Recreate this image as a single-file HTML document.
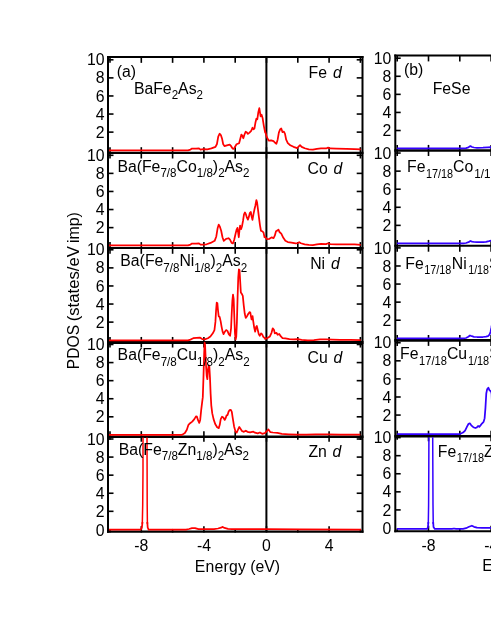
<!DOCTYPE html>
<html><head><meta charset="utf-8"><title>PDOS</title>
<style>html,body{margin:0;padding:0;background:#fff;}body{width:491px;height:635px;overflow:hidden;position:relative;font-family:"Liberation Sans",sans-serif;}</style>
</head><body>
<svg width="491" height="635" viewBox="0 0 491 635" style="position:absolute;left:0;top:0;display:block;will-change:transform">
<rect x="0" y="0" width="491" height="635" fill="#ffffff"/>
<g stroke="#000000" fill="none" stroke-linecap="butt">
<line x1="108.0" y1="56.05" x2="108.0" y2="532.65" stroke-width="2.0"/>
<line x1="362.5" y1="56.05" x2="362.5" y2="532.65" stroke-width="2.0"/>
<line x1="107.0" y1="57.05" x2="363.5" y2="57.05" stroke-width="2.0"/>
<line x1="107.0" y1="152.9" x2="363.5" y2="152.9" stroke-width="2.1"/>
<line x1="107.0" y1="248.0" x2="363.5" y2="248.0" stroke-width="2.2"/>
<line x1="107.0" y1="342.55" x2="363.5" y2="342.55" stroke-width="2.9"/>
<line x1="107.0" y1="436.75" x2="363.5" y2="436.75" stroke-width="2.5"/>
<line x1="107.0" y1="531.65" x2="363.5" y2="531.65" stroke-width="2.2"/>
<line x1="266.40" y1="57.05" x2="266.40" y2="531.65" stroke-width="2.0"/>
<line x1="395.3" y1="54.6" x2="395.3" y2="532.2" stroke-width="2.0"/>
<line x1="394.3" y1="55.6" x2="495" y2="55.6" stroke-width="2.0"/>
<line x1="394.3" y1="150.5" x2="495" y2="150.5" stroke-width="2.6"/>
<line x1="394.3" y1="245.8" x2="495" y2="245.8" stroke-width="2.1"/>
<line x1="394.3" y1="340.4" x2="495" y2="340.4" stroke-width="2.8"/>
<line x1="394.3" y1="436.3" x2="495" y2="436.3" stroke-width="2.5"/>
<line x1="394.3" y1="531.2" x2="495" y2="531.2" stroke-width="2.1"/>
</g>
<g stroke="#000000" stroke-width="1.6" fill="none">
<line x1="108.0" y1="59.80" x2="113.5" y2="59.80"/>
<line x1="362.5" y1="59.80" x2="356.7" y2="59.80"/>
<line x1="395.3" y1="58.20" x2="400.7" y2="58.20"/>
<line x1="108.0" y1="77.88" x2="113.5" y2="77.88"/>
<line x1="362.5" y1="77.88" x2="356.7" y2="77.88"/>
<line x1="395.3" y1="76.28" x2="400.7" y2="76.28"/>
<line x1="108.0" y1="95.96" x2="113.5" y2="95.96"/>
<line x1="362.5" y1="95.96" x2="356.7" y2="95.96"/>
<line x1="395.3" y1="94.36" x2="400.7" y2="94.36"/>
<line x1="108.0" y1="114.04" x2="113.5" y2="114.04"/>
<line x1="362.5" y1="114.04" x2="356.7" y2="114.04"/>
<line x1="395.3" y1="112.44" x2="400.7" y2="112.44"/>
<line x1="108.0" y1="132.12" x2="113.5" y2="132.12"/>
<line x1="362.5" y1="132.12" x2="356.7" y2="132.12"/>
<line x1="395.3" y1="130.52" x2="400.7" y2="130.52"/>
<line x1="108.0" y1="155.30" x2="113.5" y2="155.30"/>
<line x1="362.5" y1="155.30" x2="356.7" y2="155.30"/>
<line x1="395.3" y1="153.05" x2="400.7" y2="153.05"/>
<line x1="108.0" y1="173.38" x2="113.5" y2="173.38"/>
<line x1="362.5" y1="173.38" x2="356.7" y2="173.38"/>
<line x1="395.3" y1="171.13" x2="400.7" y2="171.13"/>
<line x1="108.0" y1="191.46" x2="113.5" y2="191.46"/>
<line x1="362.5" y1="191.46" x2="356.7" y2="191.46"/>
<line x1="395.3" y1="189.21" x2="400.7" y2="189.21"/>
<line x1="108.0" y1="209.54" x2="113.5" y2="209.54"/>
<line x1="362.5" y1="209.54" x2="356.7" y2="209.54"/>
<line x1="395.3" y1="207.29" x2="400.7" y2="207.29"/>
<line x1="108.0" y1="227.62" x2="113.5" y2="227.62"/>
<line x1="362.5" y1="227.62" x2="356.7" y2="227.62"/>
<line x1="395.3" y1="225.37" x2="400.7" y2="225.37"/>
<line x1="108.0" y1="249.80" x2="113.5" y2="249.80"/>
<line x1="362.5" y1="249.80" x2="356.7" y2="249.80"/>
<line x1="395.3" y1="247.90" x2="400.7" y2="247.90"/>
<line x1="108.0" y1="267.88" x2="113.5" y2="267.88"/>
<line x1="362.5" y1="267.88" x2="356.7" y2="267.88"/>
<line x1="395.3" y1="265.98" x2="400.7" y2="265.98"/>
<line x1="108.0" y1="285.96" x2="113.5" y2="285.96"/>
<line x1="362.5" y1="285.96" x2="356.7" y2="285.96"/>
<line x1="395.3" y1="284.06" x2="400.7" y2="284.06"/>
<line x1="108.0" y1="304.04" x2="113.5" y2="304.04"/>
<line x1="362.5" y1="304.04" x2="356.7" y2="304.04"/>
<line x1="395.3" y1="302.14" x2="400.7" y2="302.14"/>
<line x1="108.0" y1="322.12" x2="113.5" y2="322.12"/>
<line x1="362.5" y1="322.12" x2="356.7" y2="322.12"/>
<line x1="395.3" y1="320.22" x2="400.7" y2="320.22"/>
<line x1="108.0" y1="344.50" x2="113.5" y2="344.50"/>
<line x1="362.5" y1="344.50" x2="356.7" y2="344.50"/>
<line x1="395.3" y1="342.75" x2="400.7" y2="342.75"/>
<line x1="108.0" y1="362.58" x2="113.5" y2="362.58"/>
<line x1="362.5" y1="362.58" x2="356.7" y2="362.58"/>
<line x1="395.3" y1="360.83" x2="400.7" y2="360.83"/>
<line x1="108.0" y1="380.66" x2="113.5" y2="380.66"/>
<line x1="362.5" y1="380.66" x2="356.7" y2="380.66"/>
<line x1="395.3" y1="378.91" x2="400.7" y2="378.91"/>
<line x1="108.0" y1="398.74" x2="113.5" y2="398.74"/>
<line x1="362.5" y1="398.74" x2="356.7" y2="398.74"/>
<line x1="395.3" y1="396.99" x2="400.7" y2="396.99"/>
<line x1="108.0" y1="416.82" x2="113.5" y2="416.82"/>
<line x1="362.5" y1="416.82" x2="356.7" y2="416.82"/>
<line x1="395.3" y1="415.07" x2="400.7" y2="415.07"/>
<line x1="108.0" y1="439.00" x2="113.5" y2="439.00"/>
<line x1="362.5" y1="439.00" x2="356.7" y2="439.00"/>
<line x1="395.3" y1="437.60" x2="400.7" y2="437.60"/>
<line x1="108.0" y1="457.08" x2="113.5" y2="457.08"/>
<line x1="362.5" y1="457.08" x2="356.7" y2="457.08"/>
<line x1="395.3" y1="455.68" x2="400.7" y2="455.68"/>
<line x1="108.0" y1="475.16" x2="113.5" y2="475.16"/>
<line x1="362.5" y1="475.16" x2="356.7" y2="475.16"/>
<line x1="395.3" y1="473.76" x2="400.7" y2="473.76"/>
<line x1="108.0" y1="493.24" x2="113.5" y2="493.24"/>
<line x1="362.5" y1="493.24" x2="356.7" y2="493.24"/>
<line x1="395.3" y1="491.84" x2="400.7" y2="491.84"/>
<line x1="108.0" y1="511.32" x2="113.5" y2="511.32"/>
<line x1="362.5" y1="511.32" x2="356.7" y2="511.32"/>
<line x1="395.3" y1="509.92" x2="400.7" y2="509.92"/>
<line x1="110.00" y1="57.05" x2="110.00" y2="62.85"/>
<line x1="110.00" y1="147.20" x2="110.00" y2="158.50"/>
<line x1="110.00" y1="242.10" x2="110.00" y2="253.80"/>
<line x1="110.00" y1="336.95" x2="110.00" y2="347.55"/>
<line x1="110.00" y1="431.15" x2="110.00" y2="439.85"/>
<line x1="110.00" y1="528.95" x2="110.00" y2="532.55"/>
<line x1="141.30" y1="57.05" x2="141.30" y2="62.85"/>
<line x1="141.30" y1="147.20" x2="141.30" y2="158.50"/>
<line x1="141.30" y1="242.10" x2="141.30" y2="253.80"/>
<line x1="141.30" y1="336.95" x2="141.30" y2="347.55"/>
<line x1="141.30" y1="431.15" x2="141.30" y2="441.75"/>
<line x1="141.30" y1="526.15" x2="141.30" y2="532.55"/>
<line x1="172.60" y1="57.05" x2="172.60" y2="62.85"/>
<line x1="172.60" y1="147.20" x2="172.60" y2="158.50"/>
<line x1="172.60" y1="242.10" x2="172.60" y2="253.80"/>
<line x1="172.60" y1="336.95" x2="172.60" y2="347.55"/>
<line x1="172.60" y1="431.15" x2="172.60" y2="439.85"/>
<line x1="172.60" y1="528.95" x2="172.60" y2="532.55"/>
<line x1="203.90" y1="57.05" x2="203.90" y2="62.85"/>
<line x1="203.90" y1="147.20" x2="203.90" y2="158.50"/>
<line x1="203.90" y1="242.10" x2="203.90" y2="253.80"/>
<line x1="203.90" y1="336.95" x2="203.90" y2="347.55"/>
<line x1="203.90" y1="431.15" x2="203.90" y2="441.75"/>
<line x1="203.90" y1="526.15" x2="203.90" y2="532.55"/>
<line x1="235.20" y1="57.05" x2="235.20" y2="62.85"/>
<line x1="235.20" y1="147.20" x2="235.20" y2="158.50"/>
<line x1="235.20" y1="242.10" x2="235.20" y2="253.80"/>
<line x1="235.20" y1="336.95" x2="235.20" y2="347.55"/>
<line x1="235.20" y1="431.15" x2="235.20" y2="439.85"/>
<line x1="235.20" y1="528.95" x2="235.20" y2="532.55"/>
<line x1="266.50" y1="57.05" x2="266.50" y2="62.85"/>
<line x1="266.50" y1="147.20" x2="266.50" y2="158.50"/>
<line x1="266.50" y1="242.10" x2="266.50" y2="253.80"/>
<line x1="266.50" y1="336.95" x2="266.50" y2="347.55"/>
<line x1="266.50" y1="431.15" x2="266.50" y2="441.75"/>
<line x1="266.50" y1="526.15" x2="266.50" y2="532.55"/>
<line x1="297.80" y1="57.05" x2="297.80" y2="62.85"/>
<line x1="297.80" y1="147.20" x2="297.80" y2="158.50"/>
<line x1="297.80" y1="242.10" x2="297.80" y2="253.80"/>
<line x1="297.80" y1="336.95" x2="297.80" y2="347.55"/>
<line x1="297.80" y1="431.15" x2="297.80" y2="439.85"/>
<line x1="297.80" y1="528.95" x2="297.80" y2="532.55"/>
<line x1="329.10" y1="57.05" x2="329.10" y2="62.85"/>
<line x1="329.10" y1="147.20" x2="329.10" y2="158.50"/>
<line x1="329.10" y1="242.10" x2="329.10" y2="253.80"/>
<line x1="329.10" y1="336.95" x2="329.10" y2="347.55"/>
<line x1="329.10" y1="431.15" x2="329.10" y2="441.75"/>
<line x1="329.10" y1="526.15" x2="329.10" y2="532.55"/>
<line x1="360.40" y1="57.05" x2="360.40" y2="62.85"/>
<line x1="360.40" y1="147.20" x2="360.40" y2="158.50"/>
<line x1="360.40" y1="242.10" x2="360.40" y2="253.80"/>
<line x1="360.40" y1="336.95" x2="360.40" y2="347.55"/>
<line x1="360.40" y1="431.15" x2="360.40" y2="439.85"/>
<line x1="360.40" y1="528.95" x2="360.40" y2="532.55"/>
<line x1="397.20" y1="55.60" x2="397.20" y2="61.40"/>
<line x1="397.20" y1="144.90" x2="397.20" y2="156.00"/>
<line x1="397.20" y1="239.90" x2="397.20" y2="251.70"/>
<line x1="397.20" y1="335.00" x2="397.20" y2="345.90"/>
<line x1="397.20" y1="430.70" x2="397.20" y2="439.70"/>
<line x1="397.20" y1="528.50" x2="397.20" y2="532.10"/>
<line x1="428.50" y1="55.60" x2="428.50" y2="61.40"/>
<line x1="428.50" y1="144.90" x2="428.50" y2="156.00"/>
<line x1="428.50" y1="239.90" x2="428.50" y2="251.70"/>
<line x1="428.50" y1="335.00" x2="428.50" y2="345.90"/>
<line x1="428.50" y1="430.70" x2="428.50" y2="441.30"/>
<line x1="428.50" y1="525.70" x2="428.50" y2="532.10"/>
<line x1="459.80" y1="55.60" x2="459.80" y2="61.40"/>
<line x1="459.80" y1="144.90" x2="459.80" y2="156.00"/>
<line x1="459.80" y1="239.90" x2="459.80" y2="251.70"/>
<line x1="459.80" y1="335.00" x2="459.80" y2="345.90"/>
<line x1="459.80" y1="430.70" x2="459.80" y2="439.70"/>
<line x1="459.80" y1="528.50" x2="459.80" y2="532.10"/>
<line x1="491.10" y1="55.60" x2="491.10" y2="61.40"/>
<line x1="491.10" y1="144.90" x2="491.10" y2="156.00"/>
<line x1="491.10" y1="239.90" x2="491.10" y2="251.70"/>
<line x1="491.10" y1="335.00" x2="491.10" y2="345.90"/>
<line x1="491.10" y1="430.70" x2="491.10" y2="441.30"/>
<line x1="491.10" y1="525.70" x2="491.10" y2="532.10"/>
</g>
<path d="M109.00,150.30 L188.00,150.30 L190.50,149.60 L192.00,148.60 L196.00,148.60 L199.00,148.40 L200.50,149.60 L203.26,149.21 L207.33,149.37 L211.41,148.39 L215.48,146.92 L216.95,143.99 L218.25,136.66 L219.55,133.73 L220.86,135.03 L222.16,139.10 L223.14,143.99 L224.44,146.11 L226.88,145.30 L229.65,144.64 L230.96,145.95 L232.59,148.55 L233.89,148.88 L235.19,146.44 L236.50,144.32 L239.10,143.18 L240.41,138.29 L241.38,134.54 L242.36,135.85 L243.34,138.29 L244.32,135.03 L245.62,131.77 L246.92,132.59 L247.90,133.89 L249.53,132.59 L251.16,130.96 L252.46,127.70 L253.44,129.33 L254.42,128.51 L255.40,122.81 L256.37,118.74 L257.35,119.23 L258.33,112.22 L259.31,108.15 L259.96,112.22 L260.61,116.29 L261.59,114.66 L262.57,117.92 L263.87,126.07 L265.17,132.59 L265.00,130.55 L266.63,136.66 L268.67,140.73 L271.11,140.33 L273.55,141.14 L275.18,142.77 L276.41,143.79 L277.63,139.71 L278.85,132.59 L280.07,129.53 L281.29,128.51 L282.52,132.18 L283.74,131.57 L284.96,133.60 L286.18,139.71 L287.81,143.18 L290.25,145.21 L293.51,146.84 L297.18,148.07 L298.81,146.44 L300.03,145.21 L301.66,146.84 L304.71,148.27 L308.79,149.29 L312.86,149.69 L316.93,148.88 L321.01,148.27 L326.10,148.47 L328.14,147.66 L330.17,148.47 L336.28,148.68 L346.47,148.88 L354.61,149.08 L360.72,149.29" fill="none" stroke="#ff0000" stroke-width="1.75" stroke-linejoin="round" stroke-linecap="butt"/>
<path d="M109.00,245.30 L188.00,245.30 L190.50,244.60 L192.00,243.60 L196.00,243.60 L199.00,243.40 L200.50,244.60 L203.26,244.58 L206.52,244.26 L210.59,242.95 L214.66,240.84 L216.29,236.44 L217.60,228.29 L218.74,224.54 L219.88,226.66 L221.18,230.73 L222.48,237.25 L223.79,240.84 L226.07,238.88 L228.51,238.23 L229.98,239.69 L231.61,242.95 L232.91,243.44 L234.22,239.69 L235.52,233.99 L236.50,229.92 L237.47,227.80 L238.13,232.36 L238.78,237.25 L239.43,230.73 L240.08,225.52 L241.06,229.10 L242.04,226.17 L243.01,220.96 L243.99,214.44 L244.97,212.48 L245.95,214.44 L246.92,217.70 L247.90,219.65 L248.88,216.88 L249.86,212.81 L250.84,212.00 L251.49,216.07 L252.46,219.82 L253.44,214.44 L254.42,209.55 L255.40,205.48 L256.37,200.10 L257.03,202.22 L258.00,209.55 L258.98,217.70 L259.96,225.03 L260.94,230.73 L262.57,231.55 L263.54,232.69 L264.52,237.25 L265.00,236.75 L267.04,239.20 L269.48,238.79 L271.52,237.36 L273.55,238.18 L274.78,235.73 L276.00,231.25 L277.22,230.64 L278.44,229.62 L279.66,232.27 L281.29,233.70 L283.33,237.77 L285.37,240.82 L287.81,242.05 L291.48,242.66 L295.55,243.47 L297.59,243.07 L299.22,242.25 L300.85,243.27 L304.71,244.29 L308.79,244.90 L312.86,245.10 L316.93,244.49 L321.01,243.88 L326.10,244.08 L328.14,243.27 L330.17,244.08 L336.28,244.29 L346.47,244.49 L354.61,244.49 L360.72,244.90" fill="none" stroke="#ff0000" stroke-width="1.75" stroke-linejoin="round" stroke-linecap="butt"/>
<path d="M109.00,340.30 L188.00,340.30 L190.50,339.60 L191.63,339.02 L193.26,338.21 L196.52,337.88 L199.78,337.56 L202.22,339.02 L204.66,339.35 L207.92,338.21 L210.37,336.58 L212.81,333.32 L214.44,330.06 L215.42,321.91 L216.07,310.51 L216.72,302.69 L217.37,303.18 L218.02,310.51 L218.68,316.21 L219.65,317.03 L220.63,321.10 L221.61,326.80 L222.59,331.69 L223.56,334.13 L224.87,331.69 L226.17,330.06 L227.47,330.88 L228.78,334.13 L230.08,335.76 L231.06,328.43 L231.71,313.77 L232.36,300.73 L233.01,294.54 L233.67,299.10 L234.32,317.03 L234.97,333.32 L235.62,339.51 L236.27,336.58 L236.92,321.91 L237.58,297.47 L238.23,277.92 L238.88,269.45 L239.53,270.10 L240.18,281.18 L240.84,292.59 L241.81,293.89 L242.79,295.85 L243.77,305.62 L244.75,313.77 L245.72,317.84 L247.03,316.21 L248.33,313.77 L249.63,312.14 L250.29,312.46 L250.94,316.21 L251.59,319.47 L252.57,316.21 L253.22,321.10 L254.20,327.62 L255.17,331.69 L256.15,326.80 L256.80,325.99 L257.78,330.06 L258.76,334.13 L259.74,335.76 L261.04,333.32 L262.02,334.13 L263.32,336.90 L264.95,338.21 L265.00,338.88 L267.44,338.07 L269.89,336.44 L271.52,332.77 L272.74,328.29 L273.96,329.71 L274.78,333.38 L276.41,332.77 L277.63,334.81 L279.26,333.99 L280.89,336.44 L282.52,338.07 L285.37,338.47 L289.44,339.08 L293.51,339.49 L297.59,339.08 L301.66,339.90 L307.77,340.31 L313.88,340.10 L319.99,339.49 L326.10,339.49 L332.21,339.69 L340.36,339.90 L350.54,339.90 L360.72,340.10" fill="none" stroke="#ff0000" stroke-width="1.75" stroke-linejoin="round" stroke-linecap="butt"/>
<path d="M109.00,434.90 L181.40,434.90 L182.44,434.61 L184.89,432.98 L186.84,429.73 L188.47,424.84 L190.10,423.21 L192.22,421.58 L194.34,419.13 L195.97,416.36 L196.95,416.69 L197.92,419.95 L199.23,422.88 L200.20,419.95 L201.18,410.17 L202.16,402.03 L202.81,397.14 L203.46,377.59 L204.11,354.78 L204.60,342.56 L205.09,345.00 L205.42,353.15 L206.07,366.18 L206.72,375.96 L207.37,379.22 L208.02,369.44 L208.68,365.37 L209.33,366.18 L209.98,377.59 L210.63,393.88 L211.28,405.29 L212.26,413.43 L213.56,419.13 L215.19,424.02 L217.15,427.28 L218.78,428.10 L219.76,424.84 L220.73,419.13 L222.04,416.69 L223.34,417.51 L224.64,419.95 L225.62,418.32 L226.60,415.39 L227.58,415.06 L228.55,411.80 L229.53,410.17 L230.84,409.85 L231.81,411.80 L232.79,418.32 L234.09,426.47 L235.40,431.35 L236.70,432.66 L238.00,429.73 L239.31,426.96 L240.61,428.91 L241.91,431.03 L243.87,431.84 L245.82,430.70 L247.45,431.84 L250.06,432.33 L253.32,431.68 L255.00,432.72 L257.69,433.39 L259.93,432.50 L262.17,433.84 L264.86,433.17 L267.10,430.93 L268.44,429.36 L270.23,432.05 L272.92,432.50 L277.40,432.94 L281.88,433.84 L288.61,434.29 L297.57,434.74 L306.53,434.74 L315.49,434.29 L326.69,434.29 L340.13,434.51 L353.58,434.74 L360.30,434.74" fill="none" stroke="#ff0000" stroke-width="1.75" stroke-linejoin="round" stroke-linecap="butt"/>
<path d="M109.00,529.70 L140.80,529.70 L141.90,527.50 L142.50,522.00 M147.30,522.00 L147.70,527.50 L148.60,529.60 L186.00,529.60 L189.00,529.00 L192.00,528.10 L195.00,528.10 L198.50,529.20 L214.00,529.20 L218.00,528.50 L221.00,527.70 L222.70,526.90 L224.50,527.90 L228.00,528.90 L232.00,529.20 L266.00,529.10 L300.00,529.30 L361.00,529.60" fill="none" stroke="#ff0000" stroke-width="1.75" stroke-linejoin="round" stroke-linecap="butt"/>
<path d="M397.00,148.40 L463.50,148.40 L466.00,148.10 L468.50,147.30 L470.40,146.10 L472.00,147.00 L474.00,147.50 L477.00,147.80 L483.00,147.70 L488.00,147.40 L492.00,147.20" fill="none" stroke="#3300ff" stroke-width="1.75" stroke-linejoin="round" stroke-linecap="butt"/>
<path d="M397.00,243.30 L463.50,243.30 L466.00,243.00 L468.50,242.20 L470.40,241.00 L472.00,241.60 L474.00,242.00 L477.00,242.20 L483.00,242.20 L486.00,241.90 L489.00,241.20 L492.00,240.30" fill="none" stroke="#3300ff" stroke-width="1.75" stroke-linejoin="round" stroke-linecap="butt"/>
<path d="M397.00,338.40 L463.20,338.40 L466.00,338.00 L468.30,336.80 L470.00,335.50 L471.80,336.20 L474.00,336.80 L477.00,337.00 L483.00,337.00 L486.00,336.60 L488.00,336.10 L489.50,334.60 L490.50,332.00 L491.30,328.00 L492.00,324.00" fill="none" stroke="#3300ff" stroke-width="1.75" stroke-linejoin="round" stroke-linecap="butt"/>
<path d="M397.20,434.01 L459.94,434.01 L463.03,432.57 L465.09,430.52 L467.14,426.40 L468.58,423.73 L469.82,423.32 L471.26,425.37 L473.32,427.22 L475.37,428.05 L476.81,427.43 L478.05,425.99 L479.28,426.81 L480.52,425.37 L482.16,423.32 L483.60,421.88 L484.63,418.17 L485.45,407.89 L486.28,393.49 L487.10,389.37 L488.33,387.73 L489.57,390.40 L491.01,391.43 L491.63,393.90 L491.93,401.72" fill="none" stroke="#3300ff" stroke-width="1.75" stroke-linejoin="round" stroke-linecap="butt"/>
<path d="M397.00,528.95 L427.00,528.95 L427.90,527.50 L428.40,522.00 M433.20,522.00 L433.50,527.00 L434.80,528.90 L452.00,528.90 L454.00,528.50 L456.00,528.90 L463.00,528.80 L466.00,528.20 L469.00,526.80 L471.90,525.70 L474.00,526.80 L477.00,527.70 L482.00,527.90 L492.00,528.00" fill="none" stroke="#3300ff" stroke-width="1.75" stroke-linejoin="round" stroke-linecap="butt"/>
<path d="M142.30,524.00 L142.70,505.00 L143.00,470.00 L143.00,437.40 M147.00,437.40 L147.10,470.00 L147.20,505.00 L147.40,524.00" fill="none" stroke="#ff0000" stroke-width="1.5" stroke-linejoin="round" stroke-linecap="butt"/>
<path d="M428.30,524.00 L428.60,505.00 L428.80,470.00 L428.90,437.20 M432.70,437.20 L432.85,470.00 L433.00,505.00 L433.25,524.00" fill="none" stroke="#3300ff" stroke-width="1.5" stroke-linejoin="round" stroke-linecap="butt"/>
<g font-family="'Liberation Sans', sans-serif" font-size="15.8" fill="#000">
<text x="104.6" y="65.40" text-anchor="end">10</text>
<text x="391.4" y="63.80" text-anchor="end">10</text>
<text x="104.6" y="83.48" text-anchor="end">8</text>
<text x="391.4" y="81.88" text-anchor="end">8</text>
<text x="104.6" y="101.56" text-anchor="end">6</text>
<text x="391.4" y="99.96" text-anchor="end">6</text>
<text x="104.6" y="119.64" text-anchor="end">4</text>
<text x="391.4" y="118.04" text-anchor="end">4</text>
<text x="104.6" y="137.72" text-anchor="end">2</text>
<text x="391.4" y="136.12" text-anchor="end">2</text>
<text x="104.6" y="160.90" text-anchor="end">10</text>
<text x="391.4" y="158.65" text-anchor="end">10</text>
<text x="104.6" y="178.98" text-anchor="end">8</text>
<text x="391.4" y="176.73" text-anchor="end">8</text>
<text x="104.6" y="197.06" text-anchor="end">6</text>
<text x="391.4" y="194.81" text-anchor="end">6</text>
<text x="104.6" y="215.14" text-anchor="end">4</text>
<text x="391.4" y="212.89" text-anchor="end">4</text>
<text x="104.6" y="233.22" text-anchor="end">2</text>
<text x="391.4" y="230.97" text-anchor="end">2</text>
<text x="104.6" y="255.40" text-anchor="end">10</text>
<text x="391.4" y="253.50" text-anchor="end">10</text>
<text x="104.6" y="273.48" text-anchor="end">8</text>
<text x="391.4" y="271.58" text-anchor="end">8</text>
<text x="104.6" y="291.56" text-anchor="end">6</text>
<text x="391.4" y="289.66" text-anchor="end">6</text>
<text x="104.6" y="309.64" text-anchor="end">4</text>
<text x="391.4" y="307.74" text-anchor="end">4</text>
<text x="104.6" y="327.72" text-anchor="end">2</text>
<text x="391.4" y="325.82" text-anchor="end">2</text>
<text x="104.6" y="350.10" text-anchor="end">10</text>
<text x="391.4" y="348.35" text-anchor="end">10</text>
<text x="104.6" y="368.18" text-anchor="end">8</text>
<text x="391.4" y="366.43" text-anchor="end">8</text>
<text x="104.6" y="386.26" text-anchor="end">6</text>
<text x="391.4" y="384.51" text-anchor="end">6</text>
<text x="104.6" y="404.34" text-anchor="end">4</text>
<text x="391.4" y="402.59" text-anchor="end">4</text>
<text x="104.6" y="422.42" text-anchor="end">2</text>
<text x="391.4" y="420.67" text-anchor="end">2</text>
<text x="104.6" y="444.60" text-anchor="end">10</text>
<text x="391.4" y="443.20" text-anchor="end">10</text>
<text x="104.6" y="462.68" text-anchor="end">8</text>
<text x="391.4" y="461.28" text-anchor="end">8</text>
<text x="104.6" y="480.76" text-anchor="end">6</text>
<text x="391.4" y="479.36" text-anchor="end">6</text>
<text x="104.6" y="498.84" text-anchor="end">4</text>
<text x="391.4" y="497.44" text-anchor="end">4</text>
<text x="104.6" y="516.92" text-anchor="end">2</text>
<text x="391.4" y="515.52" text-anchor="end">2</text>
<text x="104.6" y="535.80" text-anchor="end">0</text>
<text x="391.4" y="534.40" text-anchor="end">0</text>
<text x="141.30" y="551.2" text-anchor="middle">-8</text>
<text x="203.90" y="551.2" text-anchor="middle">-4</text>
<text x="266.50" y="551.2" text-anchor="middle">0</text>
<text x="329.10" y="551.2" text-anchor="middle">4</text>
<text x="428.50" y="550.6" text-anchor="middle">-8</text>
<text x="491.20" y="550.6" text-anchor="middle">-4</text>
<text x="194.85" y="571.9" textLength="51.05" lengthAdjust="spacing">Energy</text>
<text x="250.29" y="571.9">(eV)</text>
<text x="482.3" y="571.4" text-anchor="start">Energy (eV)</text>
<text transform="translate(78.7,369.15) rotate(-90)" textLength="44.2" lengthAdjust="spacingAndGlyphs">PDOS</text>
<text transform="translate(78.7,321.3) rotate(-90)" textLength="75.2" lengthAdjust="spacingAndGlyphs">(states/eV</text>
<text transform="translate(78.7,243.0) rotate(-90)" textLength="30.9" lengthAdjust="spacingAndGlyphs">imp)</text>
<text x="116.8" y="76.5">(a)</text>
<text x="133.9" y="93.6">BaFe<tspan dy="5.4" font-size="13.0" textLength="6.45" lengthAdjust="spacingAndGlyphs">2</tspan><tspan dy="-5.4">As</tspan><tspan dy="5.4" font-size="13.0" textLength="6.45" lengthAdjust="spacingAndGlyphs">2</tspan></text>
<text x="117.4" y="171.6">Ba(Fe<tspan dy="5.4" font-size="13.0" textLength="16.12" lengthAdjust="spacingAndGlyphs">7/8</tspan><tspan dy="-5.4">Co</tspan><tspan dy="5.4" font-size="13.0" textLength="16.12" lengthAdjust="spacingAndGlyphs">1/8</tspan><tspan dy="-5.4">)</tspan><tspan dy="5.4" font-size="13.0" textLength="6.45" lengthAdjust="spacingAndGlyphs">2</tspan><tspan dy="-5.4">As</tspan><tspan dy="5.4" font-size="13.0" textLength="6.45" lengthAdjust="spacingAndGlyphs">2</tspan></text>
<text x="120.3" y="266.35">Ba(Fe<tspan dy="5.4" font-size="13.0" textLength="16.12" lengthAdjust="spacingAndGlyphs">7/8</tspan><tspan dy="-5.4">Ni</tspan><tspan dy="5.4" font-size="13.0" textLength="16.12" lengthAdjust="spacingAndGlyphs">1/8</tspan><tspan dy="-5.4">)</tspan><tspan dy="5.4" font-size="13.0" textLength="6.45" lengthAdjust="spacingAndGlyphs">2</tspan><tspan dy="-5.4">As</tspan><tspan dy="5.4" font-size="13.0" textLength="6.45" lengthAdjust="spacingAndGlyphs">2</tspan></text>
<text x="117.6" y="360.3">Ba(Fe<tspan dy="5.4" font-size="13.0" textLength="16.12" lengthAdjust="spacingAndGlyphs">7/8</tspan><tspan dy="-5.4">Cu</tspan><tspan dy="5.4" font-size="13.0" textLength="16.12" lengthAdjust="spacingAndGlyphs">1/8</tspan><tspan dy="-5.4">)</tspan><tspan dy="5.4" font-size="13.0" textLength="6.45" lengthAdjust="spacingAndGlyphs">2</tspan><tspan dy="-5.4">As</tspan><tspan dy="5.4" font-size="13.0" textLength="6.45" lengthAdjust="spacingAndGlyphs">2</tspan></text>
<text x="118.7" y="454.8">Ba(Fe<tspan dy="5.4" font-size="13.0" textLength="16.12" lengthAdjust="spacingAndGlyphs">7/8</tspan><tspan dy="-5.4">Zn</tspan><tspan dy="5.4" font-size="13.0" textLength="16.12" lengthAdjust="spacingAndGlyphs">1/8</tspan><tspan dy="-5.4">)</tspan><tspan dy="5.4" font-size="13.0" textLength="6.45" lengthAdjust="spacingAndGlyphs">2</tspan><tspan dy="-5.4">As</tspan><tspan dy="5.4" font-size="13.0" textLength="6.45" lengthAdjust="spacingAndGlyphs">2</tspan></text>
<text x="308.4" y="78.0" letter-spacing="0.25">Fe <tspan font-style="italic" dx="1.0">d</tspan></text>
<text x="307.4" y="173.7" letter-spacing="0.3">Co <tspan font-style="italic" dx="0.6">d</tspan></text>
<text x="310.2" y="268.7" letter-spacing="0">Ni <tspan font-style="italic" dx="1.6">d</tspan></text>
<text x="307.4" y="362.6" letter-spacing="0.2">Cu <tspan font-style="italic" dx="1.0">d</tspan></text>
<text x="308.4" y="457.1" letter-spacing="0.05">Zn <tspan font-style="italic" dx="1.0">d</tspan></text>
<text x="404.0" y="74.8">(b)</text>
<text x="432.7" y="93.5">FeSe</text>
<text x="407.1" y="172.35">Fe<tspan dy="5.4" dx="0.4" font-size="13.0" textLength="27.1" lengthAdjust="spacingAndGlyphs">17/18</tspan><tspan dy="-5.4" dx="0">Co</tspan><tspan dy="5.4" dx="1.1" font-size="13.0" textLength="22.8" lengthAdjust="spacingAndGlyphs">1/18</tspan><tspan dy="-5.4">Se</tspan></text>
<text x="405.3" y="268.7">Fe<tspan dy="5.4" dx="0.55" font-size="13.0" textLength="27.1" lengthAdjust="spacingAndGlyphs">17/18</tspan><tspan dy="-5.4" dx="0.4">Ni</tspan><tspan dy="5.4" dx="1.5" font-size="13.0" textLength="20.8" lengthAdjust="spacingAndGlyphs">1/18</tspan><tspan dy="-5.4">Se</tspan></text>
<text x="400.05" y="359.3">Fe<tspan dy="5.4" dx="0.6" font-size="13.0" textLength="27.8" lengthAdjust="spacingAndGlyphs">17/18</tspan><tspan dy="-5.4" dx="0">Cu</tspan><tspan dy="5.4" dx="0.85" font-size="13.0" textLength="21.2" lengthAdjust="spacingAndGlyphs">1/18</tspan><tspan dy="-5.4">Se</tspan></text>
<text x="437.8" y="456.6">Fe<tspan dy="5.4" dx="0.5" font-size="13.0" textLength="27.3" lengthAdjust="spacingAndGlyphs">17/18</tspan><tspan dy="-5.4" dx="0">Zn</tspan><tspan dy="5.4" dx="1" font-size="13.0" textLength="21.2" lengthAdjust="spacingAndGlyphs">1/18</tspan><tspan dy="-5.4">Se</tspan></text>
</g>
</svg>
</body></html>
